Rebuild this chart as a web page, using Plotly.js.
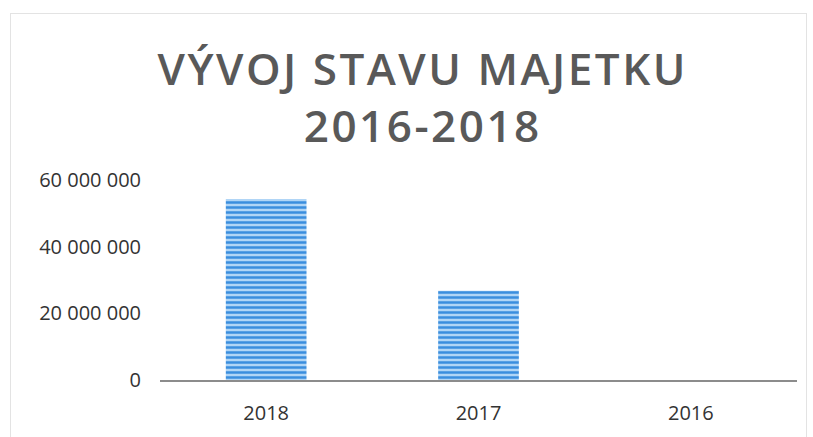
<!DOCTYPE html>
<html>
<head>
<meta charset="utf-8">
<script src="https://cdn.plot.ly/plotly-3.0.1.min.js"></script>
<style>
  html, body { margin: 0; padding: 0; background: #ffffff; }
  #wrap { position: relative; width: 813px; height: 437px; }
  #chart { width: 813px; height: 437px; }
  #frame { position: absolute; left: 10px; top: 13px; width: 797px; height: 430px;
           border: 1px solid #e3e3e3; pointer-events: none; box-sizing: border-box; }
  .gtitle { letter-spacing: 2.5px; }
</style>
</head>
<body>
<div id="wrap">
  <div id="chart"></div>
  <div id="frame"></div>
</div>
<script>
const titleText = "VÝVOJ STAVU MAJETKU<br>2016-2018";
const categories = ["2018", "2017", "2016"];
const values = [54300000, 26800000, 0];
const yTickVals = [0, 20000000, 40000000, 60000000];
const yTickText = ["0", "20 000 000", "40 000 000", "60 000 000"];

const trace = {
  type: "bar",
  x: categories,
  y: values,
  marker: {
    color: "#a9d1f5",
    line: { width: 0 },
    pattern: { shape: "-", fgcolor: "#3a8ede", bgcolor: "#b0d5f6", size: 5, solidity: 0.5 }
  },
  hoverinfo: "x+y"
};

const layout = {
  width: 813,
  height: 437,
  margin: { l: 160, r: 16, t: 180, b: 57 },
  paper_bgcolor: "#ffffff",
  plot_bgcolor: "#ffffff",
  showlegend: false,
  bargap: 0.62,
  title: {
    text: titleText,
    x: 0.52, xref: "container", xanchor: "center",
    y: 0.805, yref: "container", yanchor: "top",
    font: { family: "Open Sans, sans-serif", size: 44, color: "#595959", weight: 600 }
  },
  xaxis: {
    type: "category",
    showline: true, linecolor: "#8c8c8c", linewidth: 2,
    showgrid: false, zeroline: false, ticks: "",
    tickfont: { family: "Open Sans, sans-serif", size: 20, color: "#333333" },
    ticklabelstandoff: 14
  },
  yaxis: {
    range: [0, 60000000],
    tickvals: yTickVals, ticktext: yTickText,
    showline: false, showgrid: false, zeroline: false, ticks: "",
    tickfont: { family: "Open Sans, sans-serif", size: 20, color: "#333333" },
    ticklabelstandoff: 18
  }
};

Plotly.newPlot("chart", [trace], layout, { displayModeBar: false, staticPlot: true });
</script>
</body>
</html>
